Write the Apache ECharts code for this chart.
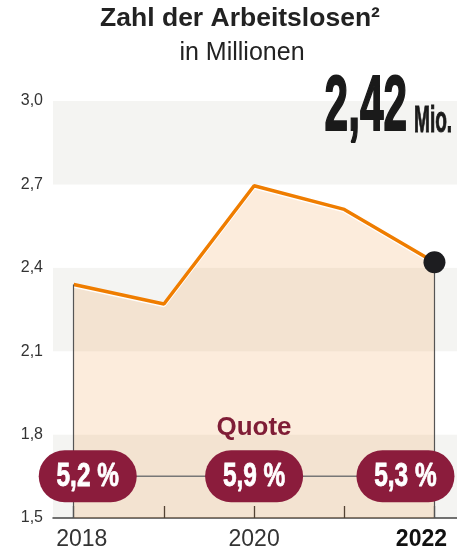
<!DOCTYPE html>
<html>
<head>
<meta charset="utf-8">
<script src="https://cdn.jsdelivr.net/npm/echarts@6/dist/echarts.min.js"></script>
<style>
  html, body { margin: 0; padding: 0; background: #fff; }
  #chart { width: 457px; height: 556px; }
</style>
</head>
<body>
<div id="chart"></div>
<script>
// Arbeitslose in Millionen
const years = [2018, 2019, 2020, 2021, 2022];
const unemployed = [2.34, 2.27, 2.695, 2.61, 2.42];

// Arbeitslosenquote in Prozent
const quoteYears = [2018, 2020, 2022];
const quoteValues = [5.2, 5.9, 5.3];

const yTicks = [1.5, 1.8, 2.1, 2.4, 2.7, 3.0];
const xLabels = [2018, 2020, 2022];

const FONT = '"Liberation Sans", Arial, sans-serif';
const pillLevel = 1.65;
const pillShift = [14, 0, -29]; // px, keep end pills inside the frame
const comma = (v, d) => v.toFixed(d).replace(".", ",");

const lastIdx = years.length - 1;
const chart = echarts.init(document.getElementById("chart"));

const option = {
  animation: false,
  grid: { left: 53, right: 0, top: 101, bottom: 38 },
  xAxis: {
    type: "value",
    min: 2017.77,
    max: 2022.25,
    splitLine: { show: false },
    axisLine: { show: true, lineStyle: { color: "#444", width: 1.5 } },
    axisTick: {
      show: true,
      inside: true,
      length: 12,
      customValues: years,
      lineStyle: { color: "#333", width: 1.3 },
    },
    axisLabel: {
      customValues: xLabels,
      margin: 10,
      fontSize: 23,
      fontFamily: FONT,
      color: "#333",
      formatter: (v) => {
        if (v === 2018) return "{first|2018}";
        if (v === 2022) return "{last|2022}";
        return String(v);
      },
      rich: {
        first: { fontSize: 23, fontFamily: FONT, color: "#333", padding: [0, 0, 0, 16] },
        last: { fontSize: 23, fontFamily: FONT, color: "#111", fontWeight: "bold", padding: [0, 26, 0, 0] },
      },
    },
  },
  yAxis: {
    type: "value",
    min: 1.5,
    max: 3.0,
    interval: 0.3,
    axisLine: { show: false },
    axisTick: { show: false },
    splitLine: { show: false },
    splitArea: {
      show: true,
      areaStyle: { color: ["#f4f4f2", "#ffffff"] },
    },
    axisLabel: {
      margin: 10,
      fontSize: 16,
      fontFamily: FONT,
      color: "#333",
      formatter: (v) => comma(v, 1),
    },
  },
  series: [
    {
      type: "line",
      data: years.map((y, i) => [y, unemployed[i]]),
      symbol: "none",
      lineStyle: {
        color: "#ef7d00",
        width: 3.5,
        shadowColor: "rgba(255,255,255,0.95)",
        shadowBlur: 0,
        shadowOffsetY: 1.5,
      },
      areaStyle: { color: "rgba(238,140,45,0.17)", origin: "start", opacity: 1 },
      z: 3,
      markLine: {
        silent: true,
        symbol: "none",
        label: { show: false },
        lineStyle: { color: "#555", width: 1.2, type: "solid" },
        data: [
          [{ coord: [years[0], unemployed[0]] }, { coord: [years[0], yTicks[0]] }],
          [{ coord: [years[lastIdx], unemployed[lastIdx]] }, { coord: [years[lastIdx], yTicks[0]] }],
        ],
      },
    },
    {
      type: "scatter",
      data: [[years[lastIdx], unemployed[lastIdx]]],
      symbolSize: 22,
      itemStyle: { color: "#1d1d20", opacity: 1 },
      z: 5,
    },
    {
      type: "line",
      data: [
        [quoteYears[0], pillLevel],
        [quoteYears[quoteYears.length - 1], pillLevel],
      ],
      symbol: "none",
      lineStyle: { color: "#777", width: 1.5 },
      z: 4,
    },
    {
      type: "custom",
      data: quoteYears.map((y, i) => [y, quoteValues[i]]),
      z: 6,
      renderItem: (params, api) => {
        const p = api.coord([api.value(0), pillLevel]);
        const cx = p[0] + pillShift[params.dataIndex];
        return {
          type: "group",
          children: [
            {
              type: "rect",
              shape: { x: cx - 49, y: p[1] - 26, width: 98, height: 52, r: 26 },
              style: { fill: "#8b1c3c" },
            },
            {
              type: "text",
              x: cx,
              y: p[1] + 1,
              scaleX: 0.74,
              style: {
                text: comma(api.value(1), 1) + " %",
                fill: "#fff",
                stroke: "#fff",
                lineWidth: 0.8,
                font: "bold 33px " + FONT,
                textAlign: "center",
                textVerticalAlign: "middle",
              },
            },
          ],
        };
      },
    },
  ],
  graphic: [
    {
      type: "text",
      x: 240,
      y: 19,
      style: {
        text: "Zahl der Arbeitslosen²",
        font: "bold 26.5px " + FONT,
        fill: "#222",
        textAlign: "center",
        textVerticalAlign: "middle",
      },
    },
    {
      type: "text",
      x: 242,
      y: 53,
      style: {
        text: "in Millionen",
        font: "25px " + FONT,
        fill: "#222",
        textAlign: "center",
        textVerticalAlign: "middle",
      },
    },
    {
      type: "text",
      x: 407,
      y: 109,
      scaleX: 0.55,
      z: 10,
      style: {
        text: comma(unemployed[lastIdx], 2),
        font: "bold 77px " + FONT,
        fill: "#1a1a1a",
        stroke: "#1a1a1a",
        lineWidth: 2,
        textAlign: "right",
        textVerticalAlign: "middle",
      },
    },
    {
      type: "text",
      x: 414,
      y: 122,
      scaleX: 0.53,
      z: 10,
      style: {
        text: "Mio.",
        font: "bold 36px " + FONT,
        fill: "#1a1a1a",
        stroke: "#1a1a1a",
        lineWidth: 1,
        textAlign: "left",
        textVerticalAlign: "middle",
      },
    },
    {
      type: "text",
      x: 254,
      y: 428,
      z: 10,
      style: {
        text: "Quote",
        font: "bold 26px " + FONT,
        fill: "#7f1d36",
        textAlign: "center",
        textVerticalAlign: "middle",
      },
    },
  ],
};

chart.setOption(option);
</script>
</body>
</html>
